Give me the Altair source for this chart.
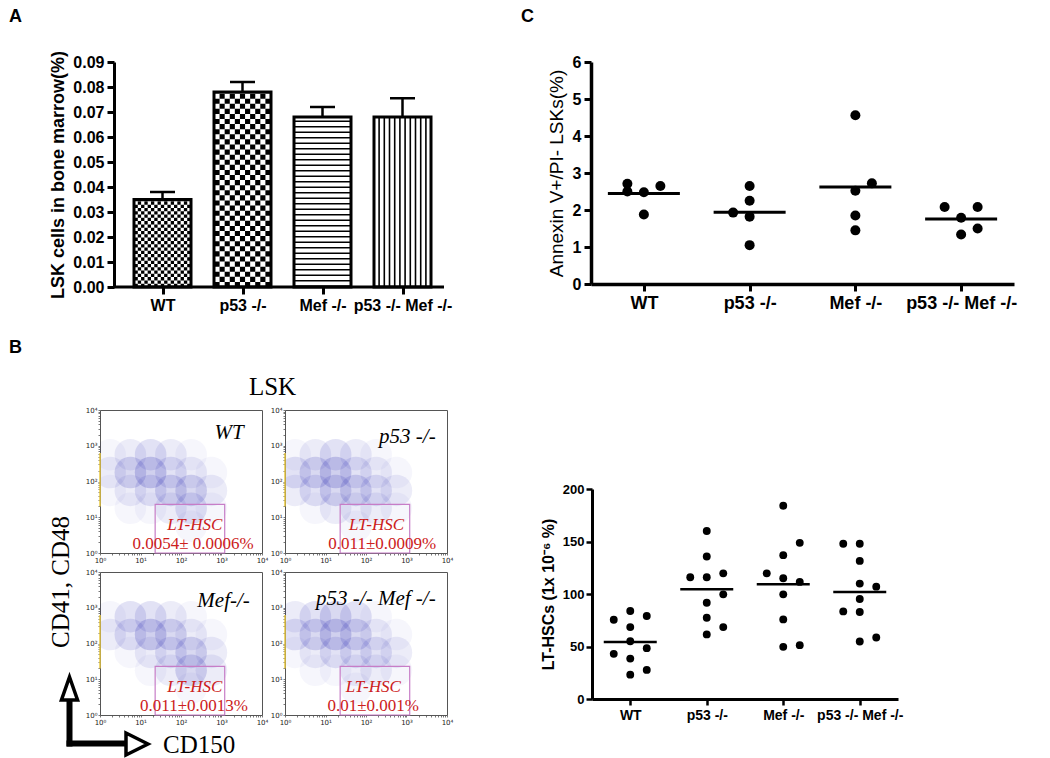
import altair as alt
import pandas as pd

SANS = "Liberation Sans"
SERIF = "Liberation Serif"

GROUPS = ["WT", "p53 -/-", "Mef -/-", "p53 -/- Mef -/-"]

# ---------------- Panel A : LSK cells in bone marrow (%) ----------------
LSK_MEAN = [0.035, 0.078, 0.068, 0.068]
LSK_ERR = [0.003, 0.004, 0.004, 0.0075]

# ---------------- Panel C : Annexin V+/PI- LSKs (%) ----------------
ANX_WT = [2.71, 2.50, 2.65, 2.48, 1.88]
ANX_WT_COL = [-1, -1, 1, 0, 0]
ANX_P53 = [2.65, 2.25, 1.93, 1.82, 1.05]
ANX_P53_COL = [0, 0, -1, 0, 0]
ANX_MEF = [4.56, 2.72, 2.52, 1.85, 1.45]
ANX_MEF_COL = [0, 1, 0, 0, 0]
ANX_DKO = [2.08, 2.08, 1.79, 1.50, 1.34]
ANX_DKO_COL = [-1, 1, 0, 1, 0]

# ---------------- Panel D : LT-HSCs (1x10^-6 %) ----------------
LT_WT = [75.5, 83.8, 79.0, 68.5, 55.0, 43.0, 48.4, 38.5, 27.7, 23.2]
LT_WT_COL = [-1, 0, 1, 0, 0, -1, 1, 0, 1, 0]
LT_P53 = [160.0, 135.7, 116.0, 116.0, 119.7, 99.7, 91.7, 77.4, 68.5, 61.5]
LT_P53_COL = [0, 0, -1, 0, 1, 1, 0, 0, 1, 0]
LT_MEF = [184.0, 148.7, 137.0, 119.7, 115.0, 111.5, 99.7, 75.8, 49.7, 51.3]
LT_MEF_COL = [0, 1, 0, -1, 0, 1, 0, 0, 0, 1]
LT_DKO = [147.8, 147.8, 131.5, 109.9, 107.0, 95.2, 83.4, 82.8, 54.8, 58.6]
LT_DKO_COL = [-1, 0, 0, 0, 1, 0, -1, 0, 0, 1]

# ---------------- Panel B : flow cytometry (event density per half-decade bin) ----------------
FLOW_LOGX = [0.25, 0.75, 1.25, 1.75, 2.25, 2.75, 3.25]
FLOW_LOGY = [2.75, 2.25, 1.75, 1.25, 0.75]
FLOW_WT = [
    [1, 2, 3, 2, 1, 0, 0],
    [2, 4, 5, 3, 2, 1, 0],
    [1, 2, 3, 4, 4, 2, 0],
    [0, 1, 1, 2, 3, 1, 0],
    [0, 0, 0, 0, 1, 0, 0],
]
FLOW_P53 = [
    [1, 2, 3, 2, 1, 0, 0],
    [3, 4, 5, 3, 2, 1, 0],
    [2, 3, 4, 4, 3, 2, 0],
    [0, 1, 2, 2, 2, 1, 0],
    [0, 0, 0, 1, 0, 0, 0],
]
FLOW_MEF = [
    [1, 3, 3, 2, 1, 0, 0],
    [2, 3, 5, 4, 2, 1, 0],
    [0, 1, 2, 3, 4, 2, 0],
    [0, 0, 1, 2, 4, 2, 0],
    [0, 0, 0, 0, 1, 0, 0],
]
FLOW_DKO = [
    [2, 3, 4, 3, 1, 0, 0],
    [3, 4, 5, 4, 2, 1, 0],
    [1, 2, 3, 3, 3, 2, 0],
    [0, 1, 1, 2, 2, 1, 0],
    [0, 0, 0, 1, 0, 0, 0],
]
FLOW_GRIDS = [FLOW_WT, FLOW_P53, FLOW_MEF, FLOW_DKO]
FLOW_NAMES = ["WT", "p53 -/-", "Mef-/-", "p53 -/- Mef -/-"]
FLOW_PCT = ["0.0054\u00b1 0.0006%", "0.011\u00b10.0009%", "0.011\u00b10.0013%", "0.01\u00b10.001%"]
FLOW_NAME_LOGX = [3.55, 3.72, 3.70, 3.72]
FLOW_NAME_LOGY = [3.20, 3.07, 3.03, 3.07]
FLOW_GATE_LOGX = [2.34, 2.26, 2.34, 2.18]
FLOW_PCT_LOGX = [2.30, 2.40, 2.32, 2.18]
GATE = [23, 1200, 1, 23]          # CD150 from-to, CD41/CD48 from-to


# ============================================================
def txt(text, x, y, size, font=SANS, weight="normal", style="normal",
        align="left", baseline="alphabetic", angle=0, color="black"):
    return alt.Chart(pd.DataFrame({"t": [text]})).mark_text(
        font=font, fontSize=size, fontWeight=weight, fontStyle=style,
        align=align, baseline=baseline, angle=angle, color=color
    ).encode(x=alt.value(x), y=alt.value(y), text="t:N")


def axis_style(**kw):
    base = dict(labelFont=SANS, labelFontWeight="bold", labelColor="black",
                domainColor="black", tickColor="black", grid=False,
                titleFont=SANS, titleColor="black", labelOverlap=False)
    base.update(kw)
    return alt.Axis(**base)


one = pd.DataFrame({"k": [0]})


def spacer(h):
    return alt.Chart(one).mark_point(opacity=0).encode(
        x=alt.value(0), y=alt.value(0)).properties(width=10, height=h)


# ---------------- Panel A ----------------
A_STEP = 80.0                  # category step in pixels
A_LEFT = 14.0                  # y axis sits 14 px inside the plot box
A_W = 344
A_HALF = 28.5 / A_STEP         # half bar width
group_expr = "['WT','p53 -/-','Mef -/-','p53 -/- Mef -/-'][datum.value]"
scaleAx = alt.Scale(domain=[-(A_LEFT + 48.5) / A_STEP, (A_W - A_LEFT - 48.5) / A_STEP],
                    nice=False, zero=False)
scaleAy = alt.Scale(domain=[0, 0.09], nice=False)
axAx = axis_style(title=None, values=[0, 1, 2, 3], labelExpr=group_expr, labelAngle=0,
                  labelFontSize=16, domain=False, tickWidth=3, tickSize=7, labelPadding=3)
axAy = axis_style(title="LSK cells in bone marrow(%)", values=[i / 100 for i in range(10)],
                  format=".2f", labelFontSize=16, domainWidth=3, tickWidth=3, tickSize=7,
                  titleFontSize=18, titleFontWeight="bold", titlePadding=5, labelPadding=3,
                  offset=-A_LEFT)


def XA(f):
    return alt.X(f, type="quantitative", scale=scaleAx, axis=axAx)


def YA(f):
    return alt.Y(f, type="quantitative", scale=scaleAy, axis=axAy)


dfA = pd.DataFrame({"pos": list(range(len(GROUPS))), "mean": LSK_MEAN,
                    "zero": [0.0] * len(GROUPS),
                    "top": [m + e for m, e in zip(LSK_MEAN, LSK_ERR)]})
dfA["left"] = dfA["pos"] - A_HALF
dfA["right"] = dfA["pos"] + A_HALF
dfA["capl"] = dfA["pos"] - 12.5 / A_STEP
dfA["capr"] = dfA["pos"] + 12.5 / A_STEP
baseA = alt.Chart(dfA)
barsA = baseA.mark_rect(fill="white").encode(x=XA("left"), x2="right", y=YA("zero"), y2="mean")


def texture(gi, n, width_px):
    step = width_px / n
    offs = [(-width_px / 2 + step * (i + 0.5)) / A_STEP for i in range(n)]
    return pd.DataFrame({"sx": [gi + o for o in offs], "mean": LSK_MEAN[gi], "zero": 0.0,
                         "parity": [i % 2 for i in range(n)]})


def checker(gi, n, width_px):
    d = texture(gi, n, width_px)
    step = width_px / n
    return [alt.Chart(d[d["parity"] == p]).mark_rule(
        color="black", strokeWidth=step + 0.05, strokeDash=[step, step],
        strokeDashOffset=step * p, strokeCap="butt"
    ).encode(x=XA("sx"), y=YA("zero"), y2="mean") for p in (0, 1)]


texWT = checker(0, 17, 56)
texP53 = checker(1, 11, 56)
texMef = alt.Chart(texture(2, 1, 56)).mark_rule(
    color="black", strokeWidth=55, strokeDash=[1.6, 3.9], strokeCap="butt"
).encode(x=XA("sx"), y=YA("zero"), y2="mean")
texDKO = alt.Chart(texture(3, 10, 52)).mark_rule(color="black", strokeWidth=1.6).encode(
    x=XA("sx"), y=YA("zero"), y2="mean")

outlineA = baseA.mark_rect(fillOpacity=0, stroke="black", strokeWidth=3).encode(
    x=XA("left"), x2="right", y=YA("zero"), y2="mean")
errA = baseA.mark_rule(color="black", strokeWidth=2.5).encode(x=XA("pos"), y=YA("mean"), y2="top")
capA = baseA.mark_rule(color="black", strokeWidth=2.5).encode(x=XA("capl"), x2="capr", y=YA("top"))
baseline = alt.Chart(pd.DataFrame({"bx": [-48.5 / A_STEP], "bx2": [(A_W - A_LEFT - 48.5) / A_STEP],
                                   "by": [0.0]})).mark_rule(color="black", strokeWidth=3).encode(
    x=XA("bx"), x2="bx2", y=YA("by"))

panelA = alt.layer(
    barsA, *texWT, *texP53, texMef, texDKO, outlineA, errA, capA, baseline,
    txt("A", -91, -40, 18, weight="bold")
).properties(width=A_W, height=225)


# ---------------- Panels C and D ----------------
def dot_df(values_by_group, cols_by_group):
    recs = []
    for g, vals, cols in zip(GROUPS, values_by_group, cols_by_group):
        for v, c in zip(vals, cols):
            recs.append({"group": g, "value": v, "col": c})
    return pd.DataFrame(recs)


def mean_df(values_by_group):
    return pd.DataFrame({"group": GROUPS,
                         "value": [sum(v) / len(v) for v in values_by_group]})


ANX = [ANX_WT, ANX_P53, ANX_MEF, ANX_DKO]
LT = [LT_WT, LT_P53, LT_MEF, LT_DKO]

dfC = dot_df(ANX, [ANX_WT_COL, ANX_P53_COL, ANX_MEF_COL, ANX_DKO_COL])
xC = alt.X("group:N", sort=GROUPS, scale=alt.Scale(type="point", padding=0.5, domain=GROUPS),
           axis=axis_style(title=None, labelAngle=0, labelFontSize=18, domainWidth=3.5,
                           tickWidth=3, tickSize=7, labelPadding=3))
yC = alt.Y("value:Q", scale=alt.Scale(domain=[0, 6], nice=False),
           axis=axis_style(title="Annexin V+/PI- LSKs(%)", values=list(range(7)),
                           labelFontSize=16, domainWidth=3.5, tickWidth=3, tickSize=7,
                           titleFontSize=19, titleFontWeight="normal", titlePadding=6,
                           labelPadding=3))
ptsC = alt.Chart(dfC).mark_circle(size=100, color="black", opacity=1).encode(
    x=xC, y=yC,
    xOffset=alt.XOffset("col:Q", scale=alt.Scale(domain=[-1, 1], range=[-16.5, 16.5])))
meanC = alt.Chart(mean_df(ANX)).mark_tick(color="black", opacity=1, thickness=3, size=72).encode(
    x=xC, y=yC)
panelC = alt.layer(ptsC, meanC, txt("C", -70, -40, 18, weight="bold")).properties(width=423, height=222)

dfD = dot_df(LT, [LT_WT_COL, LT_P53_COL, LT_MEF_COL, LT_DKO_COL])
xD = alt.X("group:N", sort=GROUPS, scale=alt.Scale(type="point", padding=0.5, domain=GROUPS),
           axis=axis_style(title=None, labelAngle=0, labelFontSize=14, domainWidth=3,
                           tickWidth=2.5, tickSize=6, labelPadding=3))
yD = alt.Y("value:Q", scale=alt.Scale(domain=[0, 200], nice=False),
           axis=axis_style(title="LT-HSCs (1x 10\u207b\u2076 %)", values=[0, 50, 100, 150, 200],
                           labelFontSize=13, domainWidth=3, tickWidth=2.5, tickSize=6,
                           titleFontSize=16, titleFontWeight="bold", titlePadding=6,
                           labelPadding=2))
ptsD = alt.Chart(dfD).mark_circle(size=62, color="black", opacity=1).encode(
    x=xD, y=yD,
    xOffset=alt.XOffset("col:Q", scale=alt.Scale(domain=[-1, 1], range=[-12, 12])))
meanD = alt.Chart(mean_df(LT)).mark_tick(color="black", opacity=1, thickness=2.5, size=53).encode(
    x=xD, y=yD)
panelD = alt.layer(ptsD, meanD).properties(width=306, height=210)

# ---------------- Panel B ----------------
flow_ticks = [m * 10 ** k for k in range(4) for m in range(1, 10)] + [10000]
sup_expr = ("datum.value == 1 ? '10\u2070' : datum.value == 10 ? '10\u00b9' : "
            "datum.value == 100 ? '10\u00b2' : datum.value == 1000 ? '10\u00b3' : "
            "datum.value == 10000 ? '10\u2074' : ''")
flow_scale = alt.Scale(type="log", domain=[1, 10000], nice=False)


def flow_axis():
    return alt.Axis(title=None, values=flow_ticks, labelExpr=sup_expr, labelFont="DejaVu Sans",
                    labelFontSize=7, labelFontWeight="normal", labelColor="#222",
                    tickColor="#555", tickSize=2, tickWidth=0.8, domain=False, grid=False,
                    labelPadding=1, labelFlush=False, labelOverlap=False)


def fx(field):
    return alt.X(field, type="quantitative", scale=flow_scale, axis=flow_axis())


def fy(field):
    return alt.Y(field, type="quantitative", scale=flow_scale, axis=flow_axis())


def flow_panel(i, extra):
    grid = FLOW_GRIDS[i]
    recs = []
    for r, ly in enumerate(FLOW_LOGY):
        for c, lx in enumerate(FLOW_LOGX):
            if grid[r][c] > 0:
                recs.append({"cd150": 10 ** lx, "cd48": 10 ** ly, "density": grid[r][c]})
    dens = alt.Chart(pd.DataFrame(recs)).mark_circle(size=1000, color="#3a3ab8", clip=True).encode(
        x=fx("cd150"), y=fy("cd48"),
        opacity=alt.Opacity("density:Q", scale=alt.Scale(domain=[0, 5], range=[0, 0.24]), legend=None))
    edge = alt.Chart(pd.DataFrame({"ex": [1], "ey": [20], "ey2": [630]})).mark_rule(
        color="#e8c840", strokeWidth=1.5).encode(x=fx("ex"), y=fy("ey"), y2="ey2:Q")
    gate = alt.Chart(pd.DataFrame({"gx": [GATE[0]], "gx2": [GATE[1]], "gy": [GATE[2]], "gy2": [GATE[3]]})
                     ).mark_rect(fillOpacity=0, stroke="#c77dc7", strokeWidth=1.2).encode(
        x=fx("gx"), x2="gx2:Q", y=fy("gy"), y2="gy2:Q")
    tdf = pd.DataFrame({
        "tx": [10 ** FLOW_NAME_LOGX[i], 10 ** FLOW_GATE_LOGX[i], 10 ** FLOW_PCT_LOGX[i]],
        "ty": [10 ** FLOW_NAME_LOGY[i], 10 ** 0.65, 10 ** 0.12],
        "t": [FLOW_NAMES[i], "LT-HSC", FLOW_PCT[i]],
    })
    name = alt.Chart(tdf.iloc[[0]]).mark_text(font=SERIF, fontStyle="italic", fontSize=21,
                                              align="right", baseline="alphabetic", color="black"
                                              ).encode(x=fx("tx"), y=fy("ty"), text="t:N")
    lt = alt.Chart(tdf.iloc[[1]]).mark_text(font=SERIF, fontStyle="italic", fontSize=17,
                                            align="center", baseline="alphabetic", color="#cc2020"
                                            ).encode(x=fx("tx"), y=fy("ty"), text="t:N")
    pct = alt.Chart(tdf.iloc[[2]]).mark_text(font=SERIF, fontSize=17, align="center",
                                             baseline="alphabetic", color="#cc2020"
                                             ).encode(x=fx("tx"), y=fy("ty"), text="t:N")
    return alt.layer(dens, edge, gate, name, lt, pct, *extra).properties(
        width=162, height=143, view=alt.ViewBackground(stroke="#555", strokeWidth=1))


vbar = alt.Chart(one).mark_rule(color="black", strokeWidth=6).encode(
    x=alt.value(-30.5), y=alt.value(127), y2=alt.value(174.5))
hbar = alt.Chart(one).mark_rule(color="black", strokeWidth=6).encode(
    x=alt.value(-33.5), x2=alt.value(27), y=alt.value(171.5))
uphead = alt.Chart(one).mark_point(shape="M0,-1L0.7,1L-0.7,1Z", size=529, filled=True, fill="white",
                                   fillOpacity=1, stroke="black", strokeWidth=3.5, opacity=1).encode(
    x=alt.value(-30.5), y=alt.value(116.5))
righthead = alt.Chart(one).mark_point(shape="M1,0L-1,-1L-1,1Z", size=484, filled=True, fill="white",
                                      fillOpacity=1, stroke="black", strokeWidth=3.5, opacity=1).encode(
    x=alt.value(37), y=alt.value(172))

b1 = flow_panel(0, [txt("B", -91, -57, 18, weight="bold"),
                    txt("LSK", 172.5, -15, 25, font=SERIF, align="center")])
b2 = flow_panel(1, [])
b3 = flow_panel(2, [vbar, hbar, uphead, righthead,
                    txt("CD150", 63, 181, 25, font=SERIF),
                    txt("CD41, CD48", -39, 76, 25, font=SERIF, align="left",
                        baseline="middle", angle=270)])
b4 = flow_panel(3, [])

gridB = alt.concat(b1, b2, b3, b4, columns=2, bounds="flush",
                   spacing=alt.RowColnumber(row=19, column=23))

row1 = alt.hconcat(panelA, panelC, spacing=69)
row2 = alt.hconcat(gridB, alt.vconcat(spacer(73), panelD, spacing=0), spacing=86)

chart = alt.vconcat(row1, row2, spacing=23).properties(
    background="white",
    padding={"left": 0, "top": 0, "right": 5, "bottom": 5}
).configure_view(stroke=None).configure_axis(
    labelFont=SANS, labelFontWeight="bold", labelColor="black", domainColor="black",
    tickColor="black", grid=False, titleFont=SANS, titleColor="black"
)

chart.save("out.html", embed_options={"renderer": "svg", "actions": False})
